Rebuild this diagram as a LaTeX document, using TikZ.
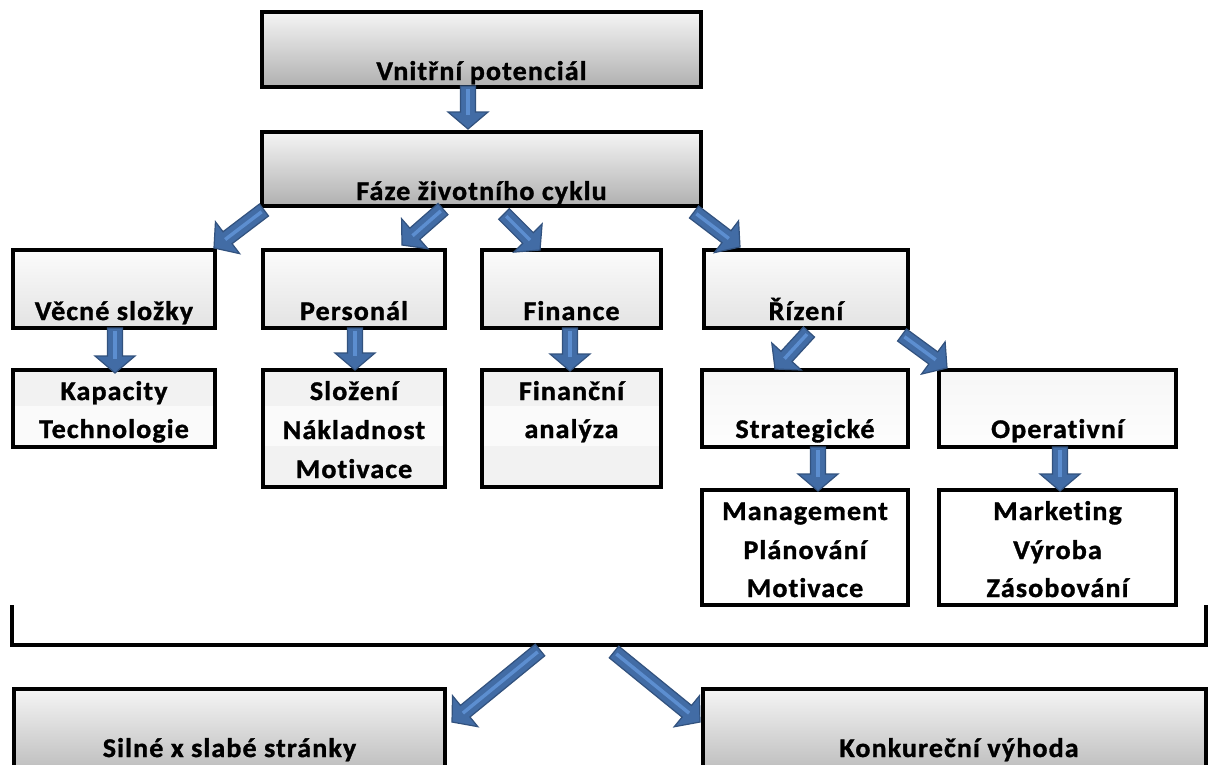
\documentclass[tikz,border=0pt]{standalone}
\usepackage{fontspec}
\setmainfont{Carlito}
\newfontfamily\boxfont[LetterSpace=4, FakeStretch=1.04, FakeBold=1.2, Ligatures={NoCommon}]{Carlito}
\usetikzlibrary{calc}

\definecolor{arrowfill}{RGB}{66,108,165}
\definecolor{arrowedge}{RGB}{50,82,126}
\definecolor{arrowlight}{RGB}{92,142,208}
\definecolor{bandA}{RGB}{242,242,242}
\definecolor{bandB}{RGB}{250,250,250}

\tikzset{
  frame/.style={draw=black, line width=3.6pt, inner sep=0pt, outer sep=0pt, rectangle},
  darkbox/.style={frame, top color=gray!8, bottom color=gray!62},
  midbox/.style={frame, top color=gray!3, bottom color=gray!22},
  paleshade/.style={frame, top color=gray!7, bottom color=gray!1},
  plainbox/.style={frame, fill=white},
  openbox/.style={frame},
  lbl/.style={font=\boxfont\fontsize{27}{32}\selectfont\bfseries, anchor=base, inner sep=0pt, outer sep=0pt},
  bracketline/.style={draw=black, line width=3.6pt, line join=miter},
}

% block arrow from #1 (tail centre) to #2 (tip)
\newcommand\blockarrow[2]{%
  \path[draw=arrowedge, fill=arrowfill, line width=1.2pt, line join=miter]
    let \p1=(#1), \p2=(#2),
        \n1={atan2(\y2-\y1,\x2-\x1)},
        \n2={veclen(\x2-\x1,\y2-\y1)-17}
    in ($(\p1)+(\n1+90:7.5pt)$)
    -- ($(\p1)+(\n1:\n2)+(\n1+90:7.5pt)$)
    -- ($(\p1)+(\n1:\n2)+(\n1+90:20pt)$)
    -- (\p2)
    -- ($(\p1)+(\n1:\n2)+(\n1-90:20pt)$)
    -- ($(\p1)+(\n1:\n2)+(\n1-90:7.5pt)$)
    -- ($(\p1)+(\n1-90:7.5pt)$) -- cycle;
  \draw[arrowlight, line width=3.5pt]
    let \p1=(#1), \p2=(#2),
        \n1={atan2(\y2-\y1,\x2-\x1)},
        \n2={veclen(\x2-\x1,\y2-\y1)-14}
    in ($(\p1)+(\n1:3pt)$) -- ($(\p1)+(\n1:\n2)$);
}

\begin{document}
\begin{tikzpicture}[x=1pt, y=-1pt]
\useasboundingbox (0,0) rectangle (1213,764);
\clip (0,0) rectangle (1213,764);
\fill[white] (0,0) rectangle (1213,764);

% ---- top chain
\node[darkbox, minimum width=439pt, minimum height=75pt] (vp) at (481.5,49.5) {};
\node[lbl] at (481.5,80) {Vnitřní potenciál};
\node[darkbox, minimum width=439pt, minimum height=74pt] (faze) at (481.5,169) {};
\node[lbl] at (481.5,200) {Fáze životního cyklu};

% ---- second row
\node[midbox, minimum width=202pt, minimum height=78pt] (vec) at (114,289) {};
\node[lbl] at (114,320) {Věcné složky};
\node[midbox, minimum width=182pt, minimum height=78pt] (per) at (354,289) {};
\node[lbl] at (354,320) {Personál};
\node[midbox, minimum width=179pt, minimum height=78pt] (fin) at (571.5,289) {};
\node[lbl] at (571.5,320) {Finance};
\node[midbox, minimum width=204pt, minimum height=78pt] (riz) at (806,289) {};
\node[lbl] at (806,320) {Řízení};

% ---- third row (banded lists)
\fill[bandA] (13,370) rectangle (215,406);
\fill[bandB] (13,406) rectangle (215,447);
\node[openbox, minimum width=202pt, minimum height=77pt] (kap) at (114,408.5) {};
\node[lbl] at (114,400) {Kapacity};
\node[lbl] at (114,438) {Technologie};

\fill[bandA] (263,370) rectangle (445,406);
\fill[bandB] (263,406) rectangle (445,446);
\fill[bandA] (263,446) rectangle (445,487);
\node[openbox, minimum width=182pt, minimum height=117pt] (slo) at (354,428.5) {};
\node[lbl] at (354,400) {Složení};
\node[lbl] at (354,439) {Nákladnost};
\node[lbl] at (354,478) {Motivace};

\fill[bandA] (482,370) rectangle (661,406);
\fill[bandB] (482,406) rectangle (661,446);
\fill[bandA] (482,446) rectangle (661,487);
\node[openbox, minimum width=179pt, minimum height=117pt] (fan) at (571.5,428.5) {};
\node[lbl] at (571.5,400) {Finanční};
\node[lbl] at (571.5,438) {analýza};

\node[paleshade, minimum width=206pt, minimum height=77pt] (str) at (805,408.5) {};
\node[lbl] at (805,438) {Strategické};
\node[paleshade, minimum width=237pt, minimum height=77pt] (ope) at (1057.5,408.5) {};
\node[lbl] at (1057.5,438) {Operativní};

% ---- fourth row
\node[plainbox, minimum width=206pt, minimum height=115pt] (man) at (805,547.5) {};
\node[lbl] at (805,520) {Management};
\node[lbl] at (805,559) {Plánování};
\node[lbl] at (805,597) {Motivace};
\node[plainbox, minimum width=237pt, minimum height=115pt] (mar) at (1057.5,547.5) {};
\node[lbl] at (1057.5,520) {Marketing};
\node[lbl] at (1057.5,559) {Výroba};
\node[lbl] at (1057.5,597) {Zásobování};

% ---- bracket collecting everything above
\coordinate (brTL) at (12,605);
\coordinate (brBL) at (12,645);
\coordinate (brBR) at (1206,645);
\coordinate (brTR) at (1206,605);
\draw[bracketline] (brTL) -- (brBL) -- (brBR) -- (brTR);

% ---- results
\node[darkbox, minimum width=431pt, minimum height=102pt, anchor=north west] (sil) at (14,689) {};
\node[lbl] at (229.5,757) {Silné x slabé stránky};
\node[darkbox, minimum width=503pt, minimum height=102pt, anchor=north west] (kon) at (703,689) {};
\node[lbl] at (959,757) {Konkureční výhoda};

% ---- arrow end points
\coordinate (a1s) at (468,86);
\coordinate (a1e) at (468,129);
\coordinate (a2s) at (264,210);
\coordinate (a2e) at (214,248);
\coordinate (a3s) at (443,209);
\coordinate (a3e) at (402,245);
\coordinate (a4s) at (504,214);
\coordinate (a4e) at (540,250);
\coordinate (a5s) at (694,212);
\coordinate (a5e) at (740,247);
\coordinate (a6s) at (115,328);
\coordinate (a6e) at (115,373);
\coordinate (a7s) at (355,328);
\coordinate (a7e) at (355,370);
\coordinate (a8s) at (570,328);
\coordinate (a8e) at (570,371);
\coordinate (a9s) at (809,332);
\coordinate (a9e) at (775,369);
\coordinate (a10s) at (902,335);
\coordinate (a10e) at (947,368);
\coordinate (a11s) at (818,447);
\coordinate (a11e) at (818,491);
\coordinate (a12s) at (1060,447);
\coordinate (a12e) at (1060,491);
\coordinate (a13s) at (540,650);
\coordinate (a13e) at (452,722);
\coordinate (a14s) at (614,652);
\coordinate (a14e) at (700,722);

\blockarrow{a1s}{a1e}
\blockarrow{a2s}{a2e}
\blockarrow{a3s}{a3e}
\blockarrow{a4s}{a4e}
\blockarrow{a5s}{a5e}
\blockarrow{a6s}{a6e}
\blockarrow{a7s}{a7e}
\blockarrow{a8s}{a8e}
\blockarrow{a9s}{a9e}
\blockarrow{a10s}{a10e}
\blockarrow{a11s}{a11e}
\blockarrow{a12s}{a12e}
\blockarrow{a13s}{a13e}
\blockarrow{a14s}{a14e}
\end{tikzpicture}
\end{document}
